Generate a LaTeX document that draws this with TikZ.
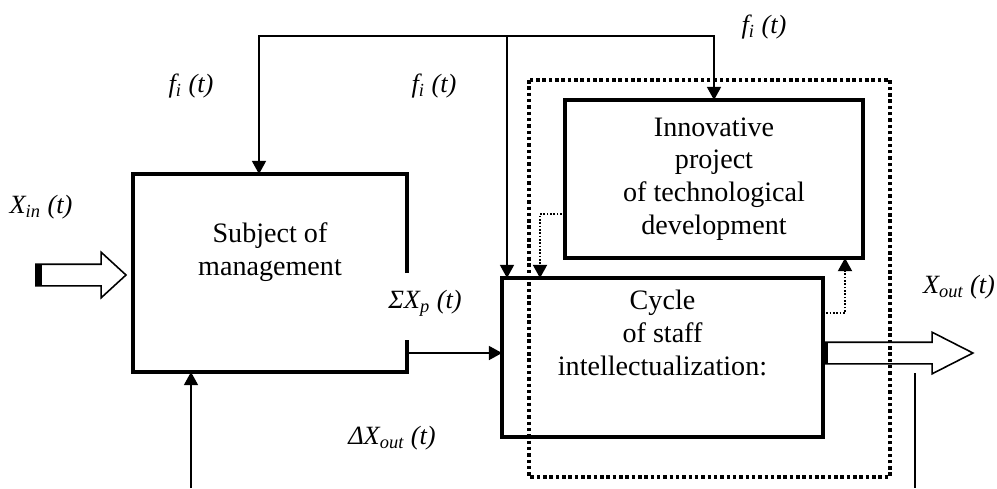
\documentclass[tikz,border=0pt]{standalone}
\usepackage{fontspec}
\setmainfont{Liberation Serif}
\usetikzlibrary{arrows.meta,shapes.arrows}

\begin{document}
\begin{tikzpicture} [x=0.02cm,y=-0.02cm,>={Triangle[length=7.5pt,width=8pt]},every node/.style={align=center,outer sep=0pt},
	boxtext/.style={font=\fontsize{16}{18.7}\selectfont},
	sig/.style={font=\fontsize{15}{18}\selectfont\itshape},
	flow/.style={line width=0.9pt},
	dots/.style={line width=1pt,dash pattern=on 0.9pt off 1pt},
	frame/.style={line width=2pt,dash pattern=on 2pt off 1.6pt},
	hollow/.style={draw,line width=0.9pt,single arrow,inner xsep=0pt,inner ysep=0.2cm}]
		\useasboundingbox (0,0) rectangle (997,488);

		% blocks
		\node [minimum width=5.48cm,minimum height=3.96cm] (subj) at (270,273) {};
		\draw [line width=2pt] (subj.east) -- (subj.north east) -- (subj.north west) -- (subj.south west) -- (subj.south east) -- ++(0,-32);
		\node [boxtext] (subjtext) at (270,252) {Subject of\\management};
		\node [draw,line width=2pt,minimum width=6.42cm,minimum height=3.18cm] (cyc) at (662.5,357.5) {};
		\node [boxtext] (cyctext) at (662.5,333) {Cycle\\of staff\\intellectualization:};
		\node [draw,line width=2pt,minimum width=5.96cm,minimum height=3.16cm,boxtext] (innov) at (714,179) {Innovative\\project\\of technological\\development};
		\draw [frame] (529,80) rectangle (890,477);

		% input and output
		\node [hollow,minimum height=1.8cm,single arrow head extend=0.24cm,single arrow tip angle=85,anchor=tip] (xin) at (126,275) {};
		\fill (xin.before tail) rectangle ([xshift=0.12cm]xin.after tail);
		\node [hollow,minimum height=3cm,single arrow head extend=0.2cm,single arrow tip angle=54,anchor=tail] (xout) at (cyc.east |- 0,353) {};
		\fill (xout.before tail) rectangle ([xshift=0.1cm]xout.after tail);

		% signals
		\node [sig] (xinlab) at (41,207) {X\textsubscript{in} (t)};
		\node [sig] (fleft) at (191,86) {f\textsubscript{i} (t)};
		\node [sig] (fmid) at (434,86) {f\textsubscript{i} (t)};
		\node [sig] (fright) at (764,27) {f\textsubscript{i} (t)};
		\node [sig] (sumlab) at (425,303) {ΣX\textsubscript{p} (t)};
		\node [sig] (dlab) at (392,438) {ΔX\textsubscript{out} (t)};
		\node [sig] (xoutlab) at (959,287) {X\textsubscript{out} (t)};

		% connectors
		\coordinate (fl) at (259,36);
		\coordinate (fm) at (507,36);
		\coordinate (fb) at (191,488);
		\coordinate (xo) at (915,373);
		\coordinate (dl) at (540,214);
		\coordinate (dr) at (845,313);
		\draw [flow,<->] (fl |- subj.north) |- (fm) -| (innov.north);
		\draw [flow,->] (fm) -- (fm |- cyc.north);
		\draw [flow,->] (fb) -- (fb |- subj.south);
		\draw [flow] (xo) -- (xo |- fb);
		\draw [flow,->] (subj.east |- 0,353) -- (cyc.west |- 0,353);
		\draw [dots,->] (innov.west |- dl) -| (dl |- cyc.north);
		\draw [dots,->] (cyc.east |- dr) -| (dr |- innov.south);
\end{tikzpicture}
\end{document}
